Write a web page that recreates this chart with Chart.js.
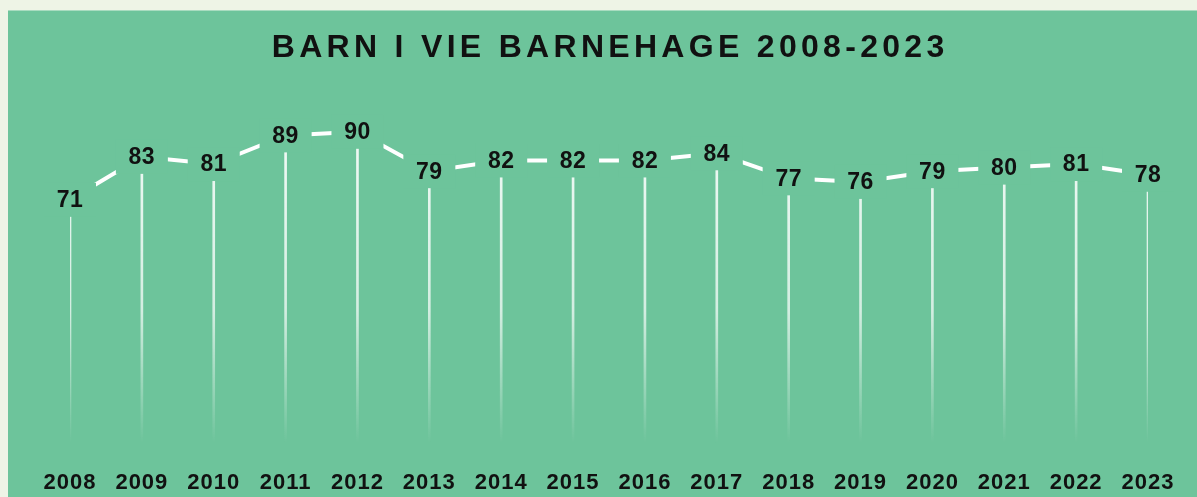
<!DOCTYPE html>
<html>
<head>
    <meta charset="UTF-8">
    <title>Barn i VIE barnehage 2008-2023</title>
    <script src="https://cdn.jsdelivr.net/npm/chart.js"></script>
    <style>
        html, body { margin: 0; padding: 0; background: #eef4e6; }
        #panel {
            position: absolute; left: 8px; top: 10px; width: 1189px; height: 487px;
            background: #6dc49b; border-top: 1px solid #a9dcc0; box-sizing: border-box;
        }
        #wrap { position: absolute; left: 0; top: 0; width: 1189px; height: 486px; }
    </style>
</head>
<body>
<div id="panel"><div id="wrap"><canvas id="chart"></canvas></div></div>

<script>
    // data
    var years = ['2008', '2009', '2010', '2011', '2012', '2013', '2014', '2015',
                 '2016', '2017', '2018', '2019', '2020', '2021', '2022', '2023'];
    var barnIVie = [71, 83, 81, 89, 90, 79, 82, 82, 82, 84, 77, 76, 79, 80, 81, 78];
    var titleText = 'BARN I VIE BARNEHAGE 2008-2023';

    var panelColor = '#6dc49b';
    var fontFamily = '"Liberation Sans", Arial, sans-serif';

    // tick labels are spaced out a little
    var spacingPlugin = {
        id: 'spacing',
        beforeDraw: function (chart) {
            chart.ctx.letterSpacing = '1px';
        }
    };

    // title (wide letter spacing) + value labels with a cut-out in the panel colour
    var textPlugin = {
        id: 'texts',
        afterDatasetsDraw: function (chart) {
            var ctx = chart.ctx;
            var meta = chart.getDatasetMeta(1);
            ctx.save();
            ctx.letterSpacing = '0.5px';
            ctx.font = 'bold 23px ' + fontFamily;
            ctx.textAlign = 'center';
            ctx.textBaseline = 'middle';
            meta.data.forEach(function (pt, i) {
                ctx.fillStyle = panelColor;
                ctx.fillRect(pt.x - 26, pt.y - 17, 52, 34);
                ctx.fillStyle = '#111111';
                ctx.fillText(String(barnIVie[i]), pt.x, pt.y + 1);
            });

            ctx.letterSpacing = '4.3px';
            ctx.font = 'bold 32px ' + fontFamily;
            ctx.textAlign = 'left';
            var w = ctx.measureText(titleText).width - 4.3;
            ctx.fillText(titleText, 600 - w / 2, 37);
            ctx.restore();
        }
    };

    var ctx = document.getElementById('chart').getContext('2d');

    function dropGradient(context) {
        var area = context.chart.chartArea;
        if (!area) return 'rgba(255,255,255,0.8)';
        var g = context.chart.ctx.createLinearGradient(0, area.top, 0, area.bottom);
        g.addColorStop(0, 'rgba(255,255,255,0.95)');
        g.addColorStop(0.6, 'rgba(255,255,255,0.7)');
        g.addColorStop(0.97, 'rgba(255,255,255,0)');
        g.addColorStop(1, 'rgba(255,255,255,0)');
        return g;
    }

    var chart = new Chart(ctx, {
        type: 'bar',
        data: {
            labels: years,
            datasets: [
                {
                    type: 'bar',
                    data: barnIVie,
                    backgroundColor: dropGradient,
                    barThickness: 2,
                    order: 2
                },
                {
                    type: 'line',
                    data: barnIVie,
                    borderColor: '#ffffff',
                    borderWidth: 4,
                    pointRadius: 0,
                    tension: 0,
                    fill: false,
                    order: 1
                }
            ]
        },
        options: {
            responsive: true,
            maintainAspectRatio: false,
            animation: false,
            layout: { padding: { left: 62, right: 49, top: 85, bottom: 0 } },
            plugins: {
                legend: { display: false },
                tooltip: { enabled: false },
                title: { display: false }
            },
            scales: {
                x: {
                    offset: false,
                    grid: { display: false },
                    border: { display: false },
                    afterFit: function (scale) { scale.height = 43; },
                    ticks: {
                        color: '#111111',
                        padding: 8,
                        maxRotation: 0,
                        autoSkip: false,
                        font: { family: fontFamily, size: 22, weight: 'bold' }
                    }
                },
                y: {
                    display: false,
                    min: 0,
                    max: 100
                }
            }
        },
        plugins: [spacingPlugin, textPlugin]
    });
</script>
</body>
</html>
